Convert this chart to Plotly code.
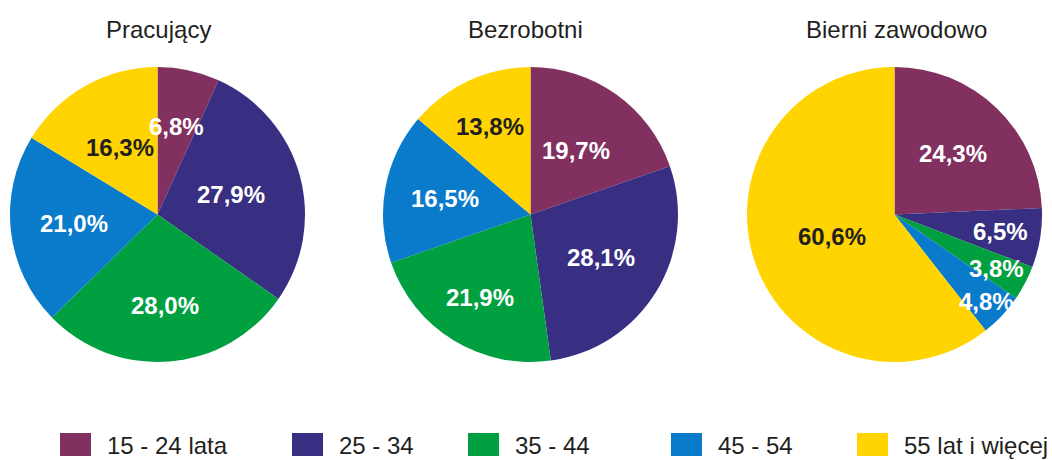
import math
import plotly.graph_objects as go

categories = ["15 - 24 lata", "25 - 34", "35 - 44", "45 - 54", "55 lat i więcej"]
titles = ["Pracujący", "Bezrobotni", "Bierni zawodowo"]
pracujacy = [6.8, 27.9, 28.0, 21.0, 16.3]
bezrobotni = [19.7, 28.1, 21.9, 16.5, 13.8]
bierni = [24.3, 6.5, 3.8, 4.8, 60.6]
series = [pracujacy, bezrobotni, bierni]

# styling
colors = ["#82305F", "#382F83", "#00A040", "#0A7ACB", "#FFD400"]
text_colors = ["white", "white", "white", "white", "#231F20"]
label_radius = [  # fraction of pie radius at which each slice's label sits
    [0.61, 0.52, 0.62, 0.57, 0.52],
    [0.53, 0.56, 0.66, 0.59, 0.66],
    [0.57, 0.73, 0.78, 0.86, 0.45],
]

W, H = 1052, 460
pie_boxes = [(10, 305), (383, 678), (747, 1042)]
pie_top, pie_bottom = 67, 362
title_x = [158, 525, 896]
FONT = "Liberation Sans, Arial, sans-serif"

fig = go.Figure()
for k, (vals, (x0, x1)) in enumerate(zip(series, pie_boxes)):
    fig.add_trace(go.Pie(
        values=vals,
        labels=categories,
        text=[f"{v:.1f}%".replace(".", ",") for v in vals],
        textinfo="none",
        sort=False,
        direction="clockwise",
        rotation=0,
        marker=dict(colors=colors, line=dict(width=0)),
        domain=dict(x=[x0 / W, x1 / W], y=[1 - pie_bottom / H, 1 - pie_top / H]),
        showlegend=False,
        hoverinfo="label+text",
    ))
    # slice labels at each slice's mid-angle
    cx, cy = (x0 + x1) / 2, (pie_top + pie_bottom) / 2
    r = (x1 - x0) / 2
    total = sum(vals)
    cum = 0.0
    for i, v in enumerate(vals):
        mid = (cum + v / 2) / total * 2 * math.pi
        cum += v
        rr = r * label_radius[k][i]
        px = cx + rr * math.sin(mid)
        py = cy - rr * math.cos(mid)
        fig.add_annotation(x=px / W, y=1 - py / H, xref="paper", yref="paper",
                           text=f"{v:.1f}%".replace(".", ","), showarrow=False,
                           xanchor="center", yanchor="middle",
                           font=dict(family=FONT, size=24, color=text_colors[i], weight="bold"))

for t, x in zip(titles, title_x):
    fig.add_annotation(x=x / W, y=1 - 30 / H, xref="paper", yref="paper", text=t, showarrow=False,
                       xanchor="center", yanchor="middle",
                       font=dict(family=FONT, size=24, color="#231F20"))

legend_sq_x = [60, 292, 468, 671, 857]
for cat, col, sx in zip(categories, colors, legend_sq_x):
    fig.add_shape(type="rect", xref="paper", yref="paper",
                  x0=sx / W, x1=(sx + 31) / W, y0=1 - 456 / H, y1=1 - 433 / H,
                  fillcolor=col, line=dict(width=0))
    fig.add_annotation(x=(sx + 45) / W, y=1 - 445 / H, xref="paper", yref="paper", text=cat, showarrow=False,
                       xanchor="left", yanchor="middle",
                       font=dict(family=FONT, size=24, color="#231F20"))

fig.update_layout(
    width=W, height=H,
    margin=dict(l=0, r=0, t=0, b=0),
    paper_bgcolor="white", plot_bgcolor="white",
)
fig.write_html("out.html", config={"displayModeBar": False},
               post_script="document.body.style.margin='0';document.body.style.overflow='hidden';")
